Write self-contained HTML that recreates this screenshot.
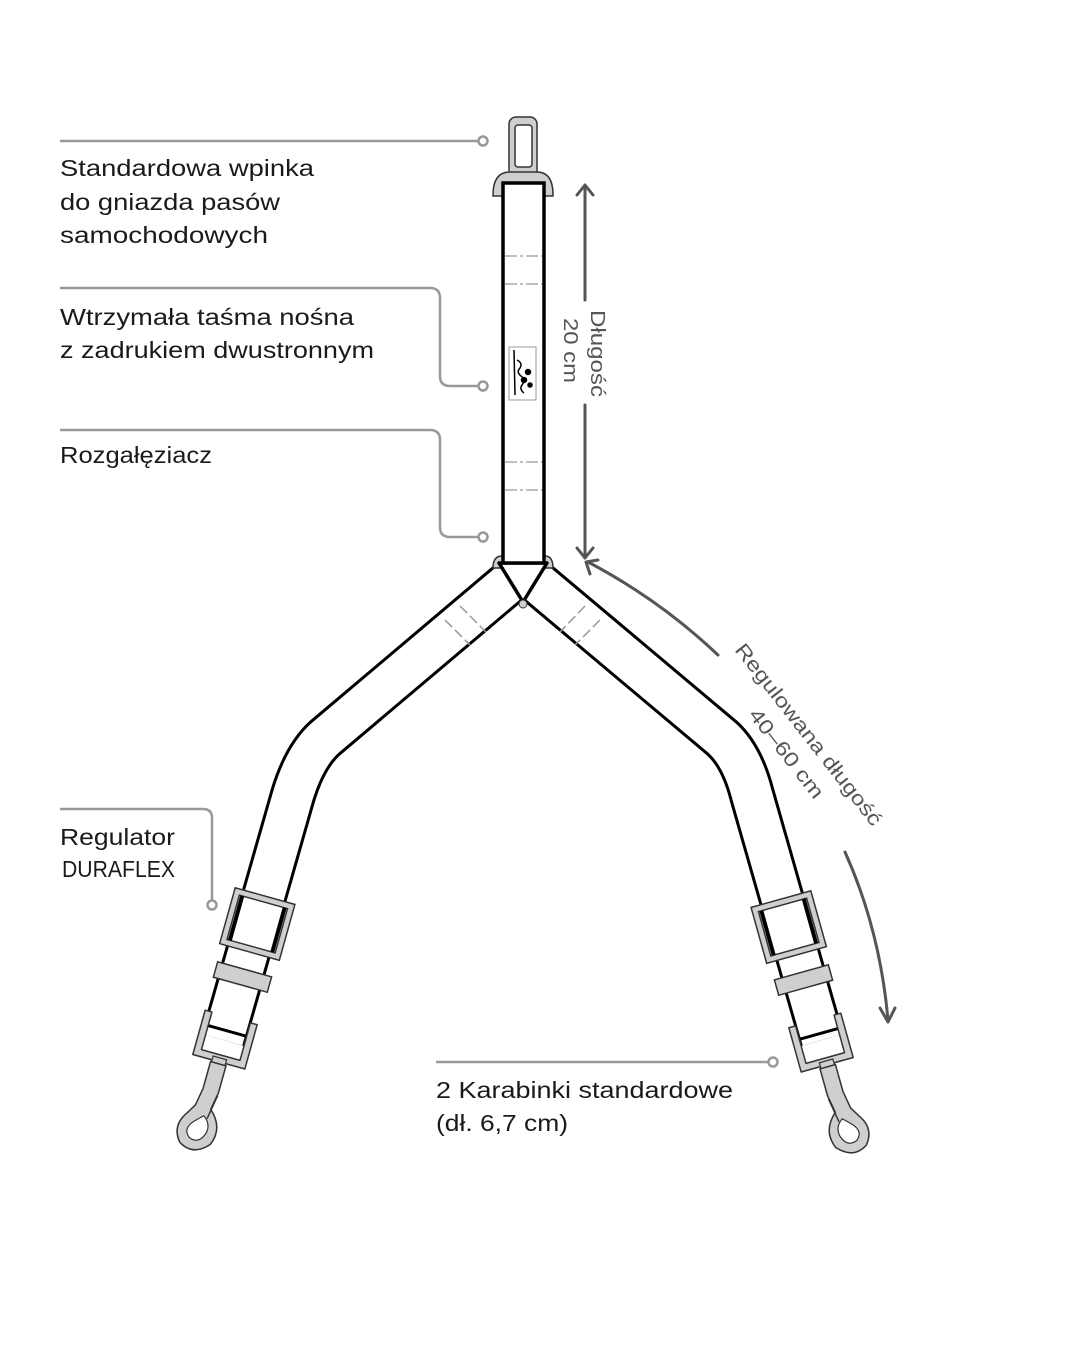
<!DOCTYPE html>
<html><head><meta charset="utf-8"><style>
html,body{margin:0;padding:0;background:#fff}
svg{display:block}
text{font-family:"Liberation Sans",sans-serif}
</style></head><body>
<svg width="1080" height="1350" viewBox="0 0 1080 1350" xmlns="http://www.w3.org/2000/svg">
<defs>
<g id="hw">
  <rect x="-31" y="-30" width="62" height="58" fill="#cfcfcf" stroke="#333" stroke-width="1.5"/>
  <rect x="-25" y="-24" width="50" height="46" fill="#fff" stroke="#333" stroke-width="1.5"/>
  <line x1="-22" y1="-24" x2="-22" y2="22" stroke="#000" stroke-width="4"/>
  <line x1="22" y1="-24" x2="22" y2="22" stroke="#000" stroke-width="4"/>
  <rect x="-28" y="46" width="56" height="16" fill="#cfcfcf" stroke="#333" stroke-width="1.5"/>
  <line x1="-20" y1="110" x2="20" y2="110" stroke="#000" stroke-width="3"/>
  <path d="M-27,96 L-27,142 L27,142 L27,96 L20,96 L20,135 L-20,135 L-20,96 Z" fill="#cfcfcf" stroke="#333" stroke-width="1.5" stroke-linejoin="round"/>
  <rect x="-7" y="138" width="14" height="6" fill="#cfcfcf" stroke="#333" stroke-width="1.2"/>
  <path d="M-8,144 L8,144 L8,172 L5,190 Q22,205 14,224 Q0,240 -16,230 Q-28,216 -17,200 L-11,190 L-8,172 Z" fill="#cfcfcf" stroke="#333" stroke-width="1.5"/>
  <path d="M-8,206 Q-17,216 -8,223 Q3,227 7,214 Q9,204 0,198 Z" fill="#fff" stroke="#333" stroke-width="1.2"/>
  <line x1="8" y1="175" x2="4" y2="200" stroke="#333" stroke-width="1.5"/>
</g>
</defs>

<g stroke="#999" stroke-width="2.5" fill="none">
  <line x1="60" y1="141" x2="478" y2="141"/>
  <circle cx="483" cy="141" r="4.5" fill="#fff"/>
  <path d="M60,288 H430 Q440,288 440,298 V376 Q440,386 450,386 H478"/>
  <circle cx="483" cy="386" r="4.5" fill="#fff"/>
  <path d="M60,430 H430 Q440,430 440,440 V527 Q440,537 450,537 H478"/>
  <circle cx="483" cy="537" r="4.5" fill="#fff"/>
  <path d="M60,809 H203 Q212,809 212,818 V900"/>
  <circle cx="212" cy="905" r="4.5" fill="#fff"/>
  <line x1="436" y1="1062" x2="768" y2="1062"/>
  <circle cx="773" cy="1062" r="4.5" fill="#fff"/>
</g>

<g fill="#1a1a1a" font-size="23">
  <text x="60" y="176" textLength="254" lengthAdjust="spacingAndGlyphs">Standardowa wpinka</text>
  <text x="60" y="210" textLength="220" lengthAdjust="spacingAndGlyphs">do gniazda pasów</text>
  <text x="60" y="243" textLength="208" lengthAdjust="spacingAndGlyphs">samochodowych</text>
  <text x="60" y="325" textLength="294" lengthAdjust="spacingAndGlyphs">Wtrzymała taśma nośna</text>
  <text x="60" y="358" textLength="314" lengthAdjust="spacingAndGlyphs">z zadrukiem dwustronnym</text>
  <text x="60" y="463" textLength="152" lengthAdjust="spacingAndGlyphs">Rozgałęziacz</text>
  <text x="60" y="845" textLength="115" lengthAdjust="spacingAndGlyphs">Regulator</text>
  <text x="62" y="877" textLength="113" lengthAdjust="spacingAndGlyphs">DURAFLEX</text>
  <text x="436" y="1098" textLength="297" lengthAdjust="spacingAndGlyphs">2 Karabinki standardowe</text>
  <text x="436" y="1131" textLength="132" lengthAdjust="spacingAndGlyphs">(dł. 6,7 cm)</text>
</g>

<g fill="none" stroke-linejoin="round">
  <path d="M512,580 L325,738 Q305,756 293,795 L223,1040" stroke="#000" stroke-width="46"/>
  <path d="M512,580 L325,738 Q305,756 293,795 L223,1040" stroke="#fff" stroke-width="40"/>
  <path d="M534,580 L722,738 Q742,756 752,795 L822,1040" stroke="#000" stroke-width="46"/>
  <path d="M534,580 L722,738 Q742,756 752,795 L822,1040" stroke="#fff" stroke-width="40"/>
</g>
<g stroke="#999" stroke-width="1.5" stroke-dasharray="10,4">
  <line x1="445" y1="620" x2="470" y2="645"/>
  <line x1="460" y1="606" x2="486" y2="632"/>
  <line x1="600" y1="620" x2="575" y2="645"/>
  <line x1="585" y1="606" x2="560" y2="632"/>
</g>

<path d="M493,568 Q493,556 502,556 L545,556 Q553,556 553,568 Z" fill="#cfcfcf" stroke="#333" stroke-width="1.5"/>
<path d="M499,563 L547,563 L523,602 Z" fill="#fff" stroke="#000" stroke-width="3.5" stroke-linejoin="round"/>
<circle cx="523" cy="604" r="4" fill="#cfcfcf" stroke="#333" stroke-width="1"/>

<rect x="509" y="117" width="28" height="60" rx="7" fill="#cfcfcf" stroke="#333" stroke-width="1.5"/>
<rect x="515" y="125" width="17" height="42" rx="3" fill="#fff" stroke="#333" stroke-width="1.5"/>
<path d="M493,195 Q493,172 510,172 L537,172 Q553,172 553,195 L553,196 L493,196 Z" fill="#cfcfcf" stroke="#333" stroke-width="1.5"/>

<rect x="503" y="183" width="41" height="380" fill="#fff" stroke="#000" stroke-width="3.5"/>
<g stroke="#aaa" stroke-width="1.5" stroke-dasharray="12,3,3,3">
  <line x1="505" y1="256" x2="542" y2="256"/>
  <line x1="505" y1="284" x2="542" y2="284"/>
  <line x1="505" y1="462" x2="542" y2="462"/>
  <line x1="505" y1="490" x2="542" y2="490"/>
</g>
<rect x="509" y="347" width="27" height="53" fill="#fff" stroke="#999" stroke-width="1"/>
<g stroke="#000" stroke-width="1.5" fill="none">
  <path d="M514,350 L515,395 M517,360 q6,3 3,8 q-4,4 1,8 q5,4 1,9 q-3,4 2,8"/>
  <circle cx="528" cy="372" r="2.5" fill="#000"/><circle cx="524" cy="380" r="2.5" fill="#000"/><circle cx="530" cy="385" r="2" fill="#000"/>
</g>

<g transform="translate(257,925) rotate(15.6)"><use href="#hw"/></g>
<g transform="translate(789,928) rotate(-15.6) scale(-1,1)"><use href="#hw"/></g>

<g stroke="#555" stroke-width="3" fill="none" stroke-linecap="round" stroke-linejoin="round">
  <line x1="585" y1="186" x2="585" y2="300"/>
  <line x1="585" y1="405" x2="585" y2="558"/>
  <path d="M577,195 L585,185 L593,195"/>
  <path d="M577,548 L585,558 L593,548"/>
  <path d="M718,655 Q660,600 588,562"/>
  <path d="M590,574 L586,562 L598,560"/>
  <path d="M845,852 Q880,930 888,1020"/>
  <path d="M880,1008 L888,1022 L895,1008"/>
</g>
<g fill="#555" font-size="20">
  <text transform="translate(591,310) rotate(90)" textLength="87" lengthAdjust="spacingAndGlyphs">Długość</text>
  <text transform="translate(564,318) rotate(90)" textLength="65" lengthAdjust="spacingAndGlyphs">20 cm</text>
  <text transform="translate(734,650) rotate(52)" textLength="225" lengthAdjust="spacingAndGlyphs">Regulowana długość</text>
  <text transform="translate(748,715) rotate(52)" textLength="108" lengthAdjust="spacingAndGlyphs">40–60 cm</text>
</g>
</svg>
</body></html>
